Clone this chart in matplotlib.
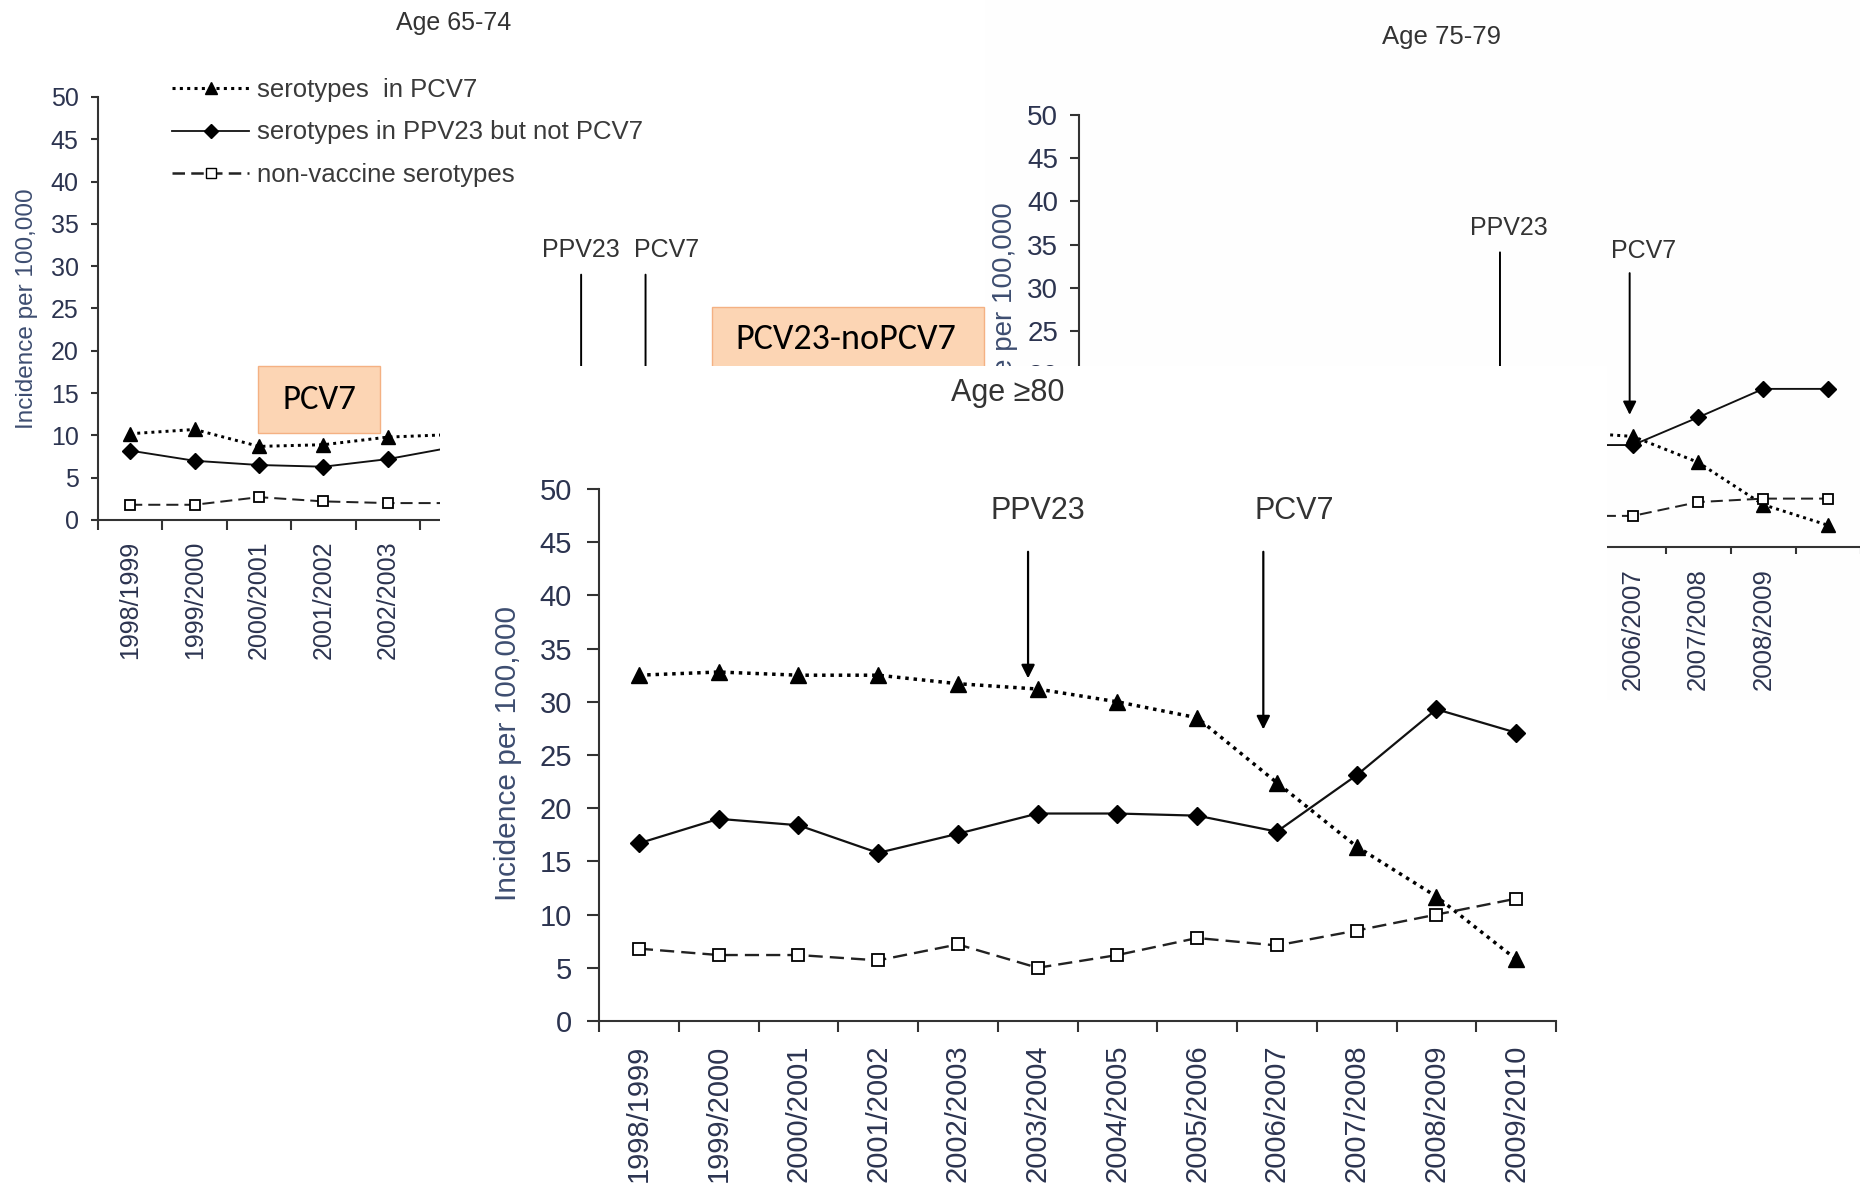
import numpy as np
import matplotlib
matplotlib.use('Agg')
import matplotlib.pyplot as plt
from matplotlib.patches import Rectangle
from matplotlib.lines import Line2D

plt.rcParams['font.family'] = ['Liberation Sans', 'DejaVu Sans']

W, H = 1860, 1192

seasons = ['1998/1999', '1999/2000', '2000/2001', '2001/2002', '2002/2003', '2003/2004',
           '2004/2005', '2005/2006', '2006/2007', '2007/2008', '2008/2009', '2009/2010']
legend_labels = ['serotypes  in PCV7', 'serotypes in PPV23 but not PCV7', 'non-vaccine serotypes']

# Age >=80 (front panel, all seasons)
pcv7_80 = [32.5, 32.8, 32.5, 32.5, 31.7, 31.2, 30.0, 28.5, 22.4, 16.4, 11.7, 5.8]
ppv23_80 = [16.7, 19.0, 18.4, 15.8, 17.6, 19.5, 19.5, 19.3, 17.8, 23.1, 29.3, 27.1]
nonvacc_80 = [6.8, 6.2, 6.2, 5.7, 7.2, 5.0, 6.2, 7.8, 7.1, 8.5, 10.0, 11.5]

# Age 65-74 (only the first seasons are visible)
pcv7_65 = [10.2, 10.7, 8.7, 8.9, 9.8, 10.1]
ppv23_65 = [8.2, 7.0, 6.5, 6.3, 7.2, 8.6]
nonvacc_65 = [1.8, 1.8, 2.7, 2.2, 2.0, 2.0]

# Age 75-79 (only the last seasons are visible)
pcv7_75 = [13.3, 12.8, 9.8, 4.9, 2.5]
ppv23_75 = [11.8, 11.8, 15.0, 18.3, 18.3]
nonvacc_75 = [3.6, 3.6, 5.2, 5.6, 5.6]

TICK_COL = '#2c3450'
LABEL_COL = '#3d4d70'


def px_rect(x0, y0, x1, y1):
    return [x0 / W, 1 - y1 / H, (x1 - x0) / W, (y1 - y0) / H]


def add_box(fig, x0, y0, x1, y1, z, fc='white', ec='none'):
    r = Rectangle((x0 / W, 1 - y1 / H), (x1 - x0) / W, (y1 - y0) / H,
                  transform=fig.transFigure, facecolor=fc, edgecolor=ec, lw=1, zorder=z)
    fig.add_artist(r)


def setup_axes(ax, ytick_fs, xtick_fs, ylen, ypad, xpad, xlen):
    ax.patch.set_visible(False)
    ax.set_xlim(-0.5, 11.5)
    ax.set_ylim(0, 50)
    for s in ['top', 'right']:
        ax.spines[s].set_visible(False)
    for s in ['left', 'bottom']:
        ax.spines[s].set_color('#333333')
        ax.spines[s].set_linewidth(1.5)
    ax.set_yticks(range(0, 51, 5))
    ax.tick_params(axis='y', length=ylen, width=1.5, pad=ypad, colors='#333333',
                   labelsize=ytick_fs, labelcolor=TICK_COL)
    ax.set_xticks(np.arange(len(seasons)))
    ax.set_xticklabels(seasons, rotation=90)
    ax.tick_params(axis='x', which='major', length=0, pad=xpad,
                   labelsize=xtick_fs, labelcolor=TICK_COL)
    ax.set_xticks(np.arange(-0.5, 12, 1), minor=True)
    ax.tick_params(axis='x', which='minor', length=xlen, width=1.5, colors='#333333')


def draw_series(ax, xs, pcv7, ppv23, nonvacc, k):
    ax.plot(xs, pcv7, color='black', lw=2.5 * k, ls=(0, (1, 1.4)),
            marker='^', ms=12 * k, mec='black', mfc='black')
    ax.plot(xs, ppv23, color='#111111', lw=1.6 * k, ls='-',
            marker='D', ms=9 * k, mec='black', mfc='black')
    ax.plot(xs, nonvacc, color='#222222', lw=1.7 * k, ls=(0, (6, 3)),
            marker='s', ms=8.5 * k, mec='black', mfc='white', mew=1.3)


def vaccine_arrow(ax, x, y_top, y_tip, lw=1.6):
    ax.annotate('', xy=(x, y_tip), xytext=(x, y_top),
                arrowprops=dict(arrowstyle='-|>', color='black', lw=lw,
                                mutation_scale=20, shrinkA=0, shrinkB=0),
                annotation_clip=False)


fig = plt.figure(figsize=(W / 100, H / 100), dpi=100)
fig.patch.set_facecolor('white')

# ---- Age 65-74 (back left panel) ----
ax_a = fig.add_axes(px_rect(98, 97, 871, 520), zorder=1)
setup_axes(ax_a, 18, 18, 5, 9, 15, 7)
draw_series(ax_a, np.arange(len(pcv7_65)), pcv7_65, ppv23_65, nonvacc_65, 0.85)
ax_a.text(0.4605, 1.175, 'Age 65-74', transform=ax_a.transAxes, ha='center', va='center',
          fontsize=18, color='#333333')
ax_a.text(-0.0918, 0.5, 'Incidence per 100,000', transform=ax_a.transAxes, rotation=90,
          ha='center', va='center', fontsize=17.5, color=LABEL_COL)
ax_a.text(7.0, 31.9, 'PPV23', ha='center', va='center', fontsize=18, color='#333333')
ax_a.text(8.33, 31.9, 'PCV7', ha='center', va='center', fontsize=18, color='#333333')
vaccine_arrow(ax_a, 7.0, 29.0, 12.0, lw=1.4)
vaccine_arrow(ax_a, 8.0, 29.0, 12.0, lw=1.4)
handles = [
    Line2D([], [], color='black', lw=2.2, ls=(0, (1, 1.4)), marker='^', ms=8.5, mfc='black', mec='black'),
    Line2D([], [], color='#111111', lw=1.3, ls='-', marker='D', ms=7, mfc='black', mec='black'),
    Line2D([], [], color='#222222', lw=1.8, ls=(0, (5, 2.5)), marker='s', ms=7.5, mfc='white', mec='black'),
]
ax_a.legend(handles, legend_labels, loc='upper left', bbox_to_anchor=(172 / W, 1 - 78 / H),
            bbox_transform=fig.transFigure, frameon=False, fontsize=18.5, handlelength=3.0,
            handletextpad=0.3, labelspacing=0.72, borderpad=0, borderaxespad=0,
            labelcolor='#3a3a3a')

# ---- Age 75-79 (back right panel) ----
add_box(fig, 985, 0, 1860, 700, 2, fc='#fefefe')
ax_b = fig.add_axes(px_rect(1079, 115, 1861, 547), zorder=3)
setup_axes(ax_b, 20, 18.5, 6.5, 8.5, 15, 5)
ax_b.get_xticklabels()[-1].set_visible(False)
draw_series(ax_b, np.arange(7, 7 + len(pcv7_75)), pcv7_75, ppv23_75, nonvacc_75, 0.85)
ax_b.text(0.463, 1.18, 'Age 75-79', transform=ax_b.transAxes, ha='center', va='center',
          fontsize=18.5, color='#333333')
ax_b.text(-0.0946, 0.48, 'Incidence per 100,000', transform=ax_b.transAxes, rotation=90,
          ha='center', va='center', fontsize=20, color=LABEL_COL)
ax_b.text(6.1, 36.9, 'PPV23', ha='center', va='center', fontsize=18, color='#333333')
ax_b.text(8.17, 34.3, 'PCV7', ha='center', va='center', fontsize=18, color='#333333')
vaccine_arrow(ax_b, 5.96, 34.1, 8.0, lw=1.4)
vaccine_arrow(ax_b, 7.95, 31.7, 15.3, lw=1.4)

# orange note boxes
add_box(fig, 712, 307, 984, 400, 4, fc='#fcd5b4', ec='#f4b183')
fig.text(846 / W, 1 - 339 / H, 'PCV23-noPCV7', ha='center', va='center', fontsize=26,
         family=['Carlito', 'Lato', 'DejaVu Sans'], color='black', zorder=4.5)

# ---- Age >=80 (front panel) ----
add_box(fig, 440, 366, 1607, 1192, 5, fc='white')
ax_m = fig.add_axes(px_rect(599, 489, 1556, 1021), zorder=6)
setup_axes(ax_m, 21, 21, 8.5, 11, 17, 8)
draw_series(ax_m, np.arange(len(seasons)), pcv7_80, ppv23_80, nonvacc_80, 1.0)
ax_m.text(0.427, 1.18, 'Age \u226580', transform=ax_m.transAxes, ha='center', va='center',
          fontsize=22, color='#333333')
ax_m.text(-0.095, 0.502, 'Incidence per 100,000', transform=ax_m.transAxes, rotation=90,
          ha='center', va='center', fontsize=21.5, color=LABEL_COL)
ax_m.text(5.0, 47.9, 'PPV23', ha='center', va='center', fontsize=22, color='#333333')
ax_m.text(8.22, 47.9, 'PCV7', ha='center', va='center', fontsize=22, color='#333333')
vaccine_arrow(ax_m, 4.88, 44.1, 32.2)
vaccine_arrow(ax_m, 7.83, 44.1, 27.4)

add_box(fig, 258, 366, 380, 433, 7, fc='#fcd5b4', ec='#f4b183')
fig.text(319 / W, 1 - 400 / H, 'PCV7', ha='center', va='center', fontsize=25,
         family=['Carlito', 'Lato', 'DejaVu Sans'], color='black', zorder=7.5)

fig.savefig('out.png', dpi=100, facecolor='white')
